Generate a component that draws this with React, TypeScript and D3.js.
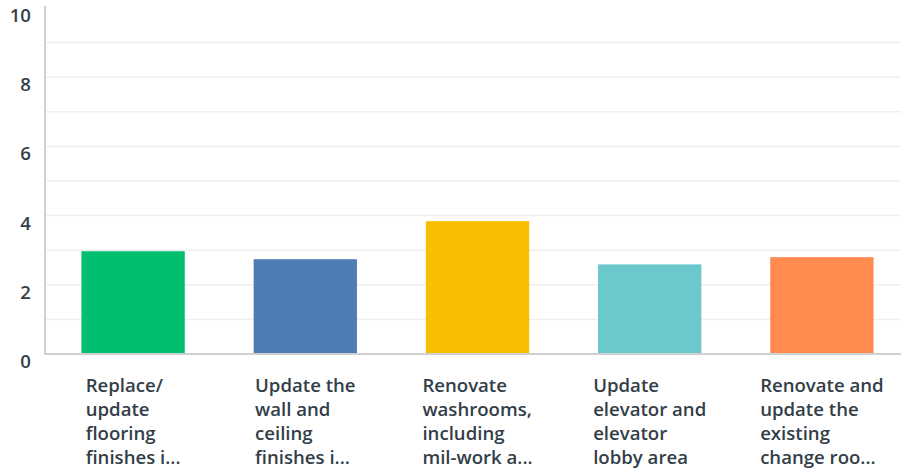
import React from "react";
import * as d3 from "d3";

const categories = [
  ["Replace/", "update", "flooring", "finishes i..."],
  ["Update the", "wall and", "ceiling", "finishes i..."],
  ["Renovate", "washrooms,", "including", "mil-work a..."],
  ["Update", "elevator and", "elevator", "lobby area"],
  ["Renovate and", "update the", "existing", "change roo..."],
];
const values = [2.97, 2.74, 3.84, 2.59, 2.8];
const colors = ["#00bf6f", "#507cb6", "#f9be00", "#6bc8cd", "#ff8b4f"];
const tickLabels = [0, 2, 4, 6, 8, 10];
const gridValues = [1, 2, 3, 4, 5, 6, 7, 8, 9];

const W = 901;
const H = 470;
const FONT = "'Open Sans', sans-serif";
const FONT_SIZE = 18.6;
const TEXT = "#333e48";

function measure(s: string): number {
  const c = document.createElement("canvas");
  const ctx = c.getContext("2d");
  if (!ctx) return s.length * 9;
  ctx.font = `600 ${FONT_SIZE}px 'Open Sans', sans-serif`;
  return ctx.measureText(s).width;
}

export default function App() {
  const y = d3.scaleLinear().domain([0, 10]).range([354, 8]);
  const x = d3
    .scaleBand<number>()
    .domain(d3.range(values.length))
    .range([47, 908])
    .paddingInner(0.4)
    .paddingOuter(0.2);

  return (
    <svg
      width={W}
      height={H}
      style={{ position: "absolute", left: 0, top: 0, background: "#fff" }}
    >
      {gridValues.map((g) => (
        <line
          key={g}
          x1={45}
          x2={W}
          y1={y(g)}
          y2={y(g)}
          stroke="#efefef"
          strokeWidth={1.5}
        />
      ))}
      {values.map((v, i) => (
        <rect
          key={i}
          x={x(i)}
          width={x.bandwidth()}
          y={y(v)}
          height={y(0) - y(v)}
          fill={colors[i]}
        />
      ))}
      <line x1={45} x2={45} y1={6} y2={355} stroke="#d0d0d0" strokeWidth={2} />
      <line x1={44} x2={W} y1={354} y2={354} stroke="#d0d0d0" strokeWidth={2} />
      {tickLabels.map((t) => (
        <text
          key={t}
          x={31}
          y={y(t) + 14}
          textAnchor="end"
          fontFamily={FONT}
          fontWeight={600}
          fontSize={FONT_SIZE}
          fill={TEXT}
        >
          {t}
        </text>
      ))}
      {categories.map((lines, i) => {
        const bw = Math.max(...lines.map(measure));
        const cx = (x(i) as number) + x.bandwidth() / 2;
        const left = cx - bw / 2;
        return (
          <text
            key={i}
            x={left}
            y={392}
            fontFamily={FONT}
            fontWeight={600}
            fontSize={FONT_SIZE}
            fill={TEXT}
          >
            {lines.map((l, j) => (
              <tspan key={j} x={left} y={392 + j * 24}>
                {l}
              </tspan>
            ))}
          </text>
        );
      })}
    </svg>
  );
}
